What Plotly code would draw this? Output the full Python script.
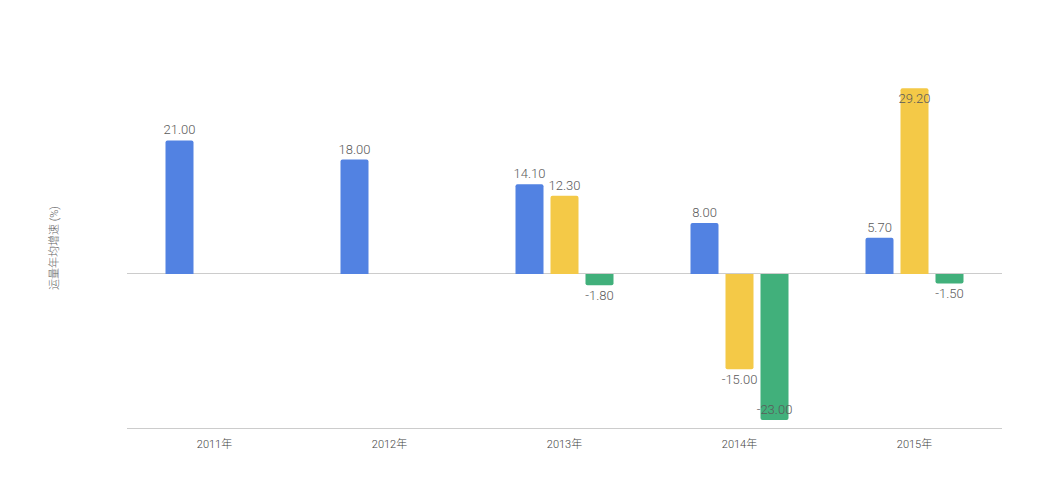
import plotly.graph_objects as go

categories = ["2011年", "2012年", "2013年", "2014年", "2015年"]
series_a = [21.0, 18.0, 14.1, 8.0, 5.7]
series_b = [None, None, 12.3, -15.0, 29.2]
series_c = [None, None, -1.8, -23.0, -1.5]
y_title = "运量年均增速 (%)"

colors = ["#5282E2", "#F4C947", "#41B07B"]
font_family = "Roboto, 'Noto Sans CJK SC', sans-serif"

fig = go.Figure()
for vals, col in zip([series_a, series_b, series_c], colors):
    positions = []
    for v in vals:
        if v is not None and (v > 28 or v < -20):
            positions.append("inside")
        else:
            positions.append("outside")
    fig.add_trace(go.Bar(
        x=categories, y=vals,
        marker=dict(color=col, cornerradius=2, line=dict(width=0)),
        texttemplate="%{y:.2f}",
        textposition=positions,
        insidetextanchor="end",
        textangle=0,
        cliponaxis=False,
        insidetextfont=dict(color="#5a5a5a", size=13, family=font_family, weight=300),
        outsidetextfont=dict(color="#5a5a5a", size=13, family=font_family, weight=300),
        constraintext="none",
        hoverinfo="skip",
    ))

fig.update_layout(
    width=1048, height=488,
    margin=dict(l=119, r=54, t=60, b=68),
    barmode="group",
    bargap=0.4,
    bargroupgap=0.2,
    showlegend=False,
    plot_bgcolor="white",
    paper_bgcolor="white",
    font=dict(family=font_family, color="#555555"),
    xaxis=dict(
        showgrid=False, showline=True, linecolor="#cccccc", linewidth=1,
        ticks="", ticklabelstandoff=6,
        tickfont=dict(size=11, color="#444444", weight=300),
    ),
    yaxis=dict(
        range=[-24.25, 32.4], showgrid=False, showticklabels=False,
        zeroline=True, zerolinecolor="#cccccc", zerolinewidth=1,
        title=dict(text=y_title, font=dict(size=11, color="#666666", weight=300), standoff=65),
        automargin=False,
    ),
)

fig.write_html("out.html")
